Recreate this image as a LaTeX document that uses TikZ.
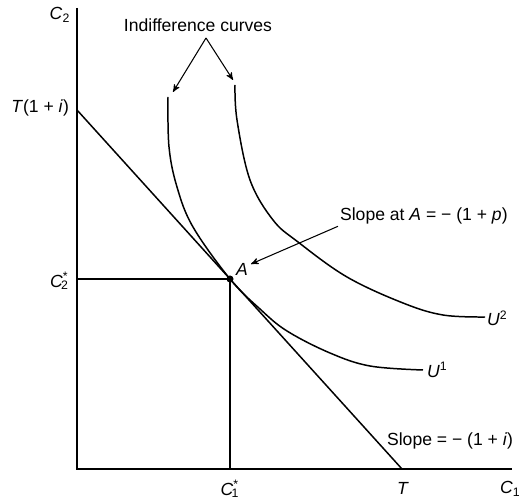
\documentclass[tikz,border=0pt]{standalone}
\usepackage{fontspec}
\setmainfont{Liberation Sans}
\usepackage{tikz}
\usetikzlibrary{arrows, positioning}

\newcommand{\ivar}[1]{\textit{#1}}
\newcommand{\cstar}[1]{\textit{C}\textsuperscript{*}\kern-0.42em\textsubscript{#1}}

\begin{document}
\begin{tikzpicture}[x=0.02cm, y=-0.02cm, >=stealth',
  axis/.style={draw, line width=0.85pt},
  guide/.style={draw, line width=0.75pt},
  curve/.style={draw, line width=0.85pt},
  pointer/.style={draw, ->, line width=0.6pt},
  lbl/.style={font=\fontsize{10}{12}\selectfont, inner sep=1pt}]

  \useasboundingbox (0,0) rectangle (520,499);

  \coordinate (origin) at (77,469);
  \coordinate (ytop) at (77,8);
  \coordinate (xend) at (512,469);
  \coordinate (Tint) at (77,110);
  \coordinate (Tx) at (402,469);
  \coordinate (A) at (230,279);
  \coordinate (apex) at (206,38);
  \coordinate (tipone) at (173,92);
  \coordinate (tiptwo) at (233,80);
  \coordinate (Atip) at (251,264);

  % axes and budget line
  \path [axis] (ytop) -- (origin) -- (xend);
  \path [axis] (Tint) -- (Tx);
  \path [guide] (origin |- A) -- (A) -- (A |- origin);

  % indifference curves
  \path [curve] plot[smooth, tension=0.6] coordinates {(168,97) (169,147) (177,187) (193,227) (A) (260,309) (287,331) (330,353) (370,366) (423,370)};
  \path [curve] plot[smooth, tension=0.6] coordinates {(235,85) (237,120) (250,180) (273,220) (298,242) (347,277) (403,303) (443,315) (485,317)};
  \fill (A) circle (3.5);

  % labels
  \node [lbl] (ctwo) at (60,15) {\ivar{C}\textsubscript{2}};
  \node [lbl, anchor=east] (tint) at (71,108) {\ivar{T}(1 + \ivar{i})};
  \node [lbl, anchor=east] (ctwostar) at (71,281) {\cstar{2}};
  \node [lbl] (conestar) at (230,489) {\cstar{1}};
  \node [lbl] (tlab) at (403,488) {\ivar{T}};
  \node [lbl, anchor=west] (cone) at (498,489) {\ivar{C}\textsubscript{1}};
  \node [lbl] (alab) at (242,269) {\ivar{A}};
  \node [lbl, anchor=west] (uone) at (425,370) {\ivar{U}\textsuperscript{1}};
  \node [lbl, anchor=west] (utwo) at (485,318) {\ivar{U}\textsuperscript{2}};
  \node [lbl, anchor=west] (budget) at (385,441) {Slope = − (1 + \ivar{i})};
  \node [lbl, anchor=west] (slopea) at (338,216) {Slope at \ivar{A} = − (1 + \ivar{p})};
  \node [lbl] (indiff) at (198,25) {Indifference curves};

  \path [pointer] (apex) -- (tipone);
  \path [pointer] (apex) -- (tiptwo);
  \path [pointer] (slopea.south west) -- (Atip);
\end{tikzpicture}
\end{document}
